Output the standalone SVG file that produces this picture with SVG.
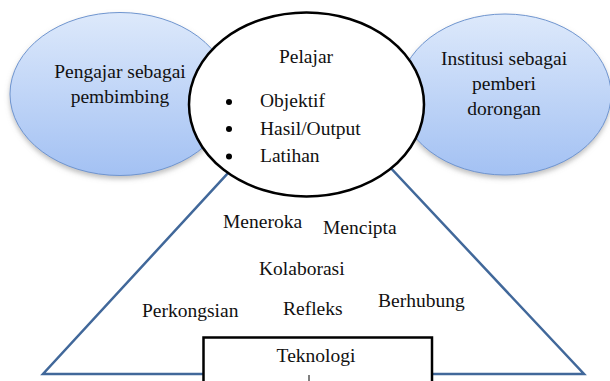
<svg xmlns="http://www.w3.org/2000/svg" width="610" height="381" viewBox="0 0 610 381">
  <style>
    text { font-family: "Liberation Serif", "Times New Roman", serif; font-size: 19.5px; fill: #111; }
    .c { text-anchor: middle; }
    .side { stroke: #6f95cf; stroke-width: 1; fill: url(#blueGrad); filter: url(#shadow); }
    .tri { fill: none; stroke: #41689a; stroke-width: 2.5; stroke-linejoin: miter; }
    .blk { fill: #fff; stroke: #000; stroke-width: 2.5; }
  </style>
  <defs>
    <linearGradient id="blueGrad" x1="0" y1="0" x2="0" y2="1">
      <stop offset="0" stop-color="#dde9fb"/>
      <stop offset="1" stop-color="#a3c1f3"/>
    </linearGradient>
    <filter id="shadow" x="-20%" y="-20%" width="140%" height="150%">
      <feDropShadow dx="0" dy="3" stdDeviation="2.5" flood-color="#808080" flood-opacity="0.5"/>
    </filter>
  </defs>
  <rect width="610" height="381" fill="#fff"/>

  <g id="connectors">
    <polygon class="tri" points="311,83 43,374 584,374"/>
  </g>

  <g id="pengajar">
    <ellipse class="side" cx="120" cy="94" rx="110" ry="81.5"/>
    <text class="c" x="120" y="78">Pengajar sebagai</text>
    <text class="c" x="120" y="103">pembimbing</text>
  </g>

  <g id="institusi">
    <ellipse class="side" cx="505" cy="94.5" rx="106" ry="80.5"/>
    <text class="c" x="504" y="65">Institusi sebagai</text>
    <text class="c" x="504" y="90">pemberi</text>
    <text class="c" x="504" y="115">dorongan</text>
  </g>

  <g id="pelajar">
    <ellipse class="blk" cx="306.5" cy="104.5" rx="117.5" ry="92"/>
    <text class="c" x="306" y="63">Pelajar</text>
    <circle cx="229" cy="102" r="3" fill="#000"/>
    <circle cx="229" cy="129" r="3" fill="#000"/>
    <circle cx="229" cy="156.5" r="3" fill="#000"/>
    <text x="260" y="107">Objektif</text>
    <text x="260" y="134.5">Hasil/Output</text>
    <text x="260" y="162">Latihan</text>
  </g>

  <g id="aktiviti">
    <text x="223" y="228">Meneroka</text>
    <text x="323" y="234">Mencipta</text>
    <text x="259" y="275">Kolaborasi</text>
    <text x="142" y="317">Perkongsian</text>
    <text x="283" y="315">Refleks</text>
    <text x="378" y="307">Berhubung</text>
  </g>

  <g id="teknologi">
    <rect class="blk" x="203.5" y="337.5" width="228.5" height="60"/>
    <text class="c" x="316" y="362">Teknologi</text>
    <line x1="309" y1="375" x2="309" y2="381" stroke="#000" stroke-width="1"/>
  </g>
</svg>
